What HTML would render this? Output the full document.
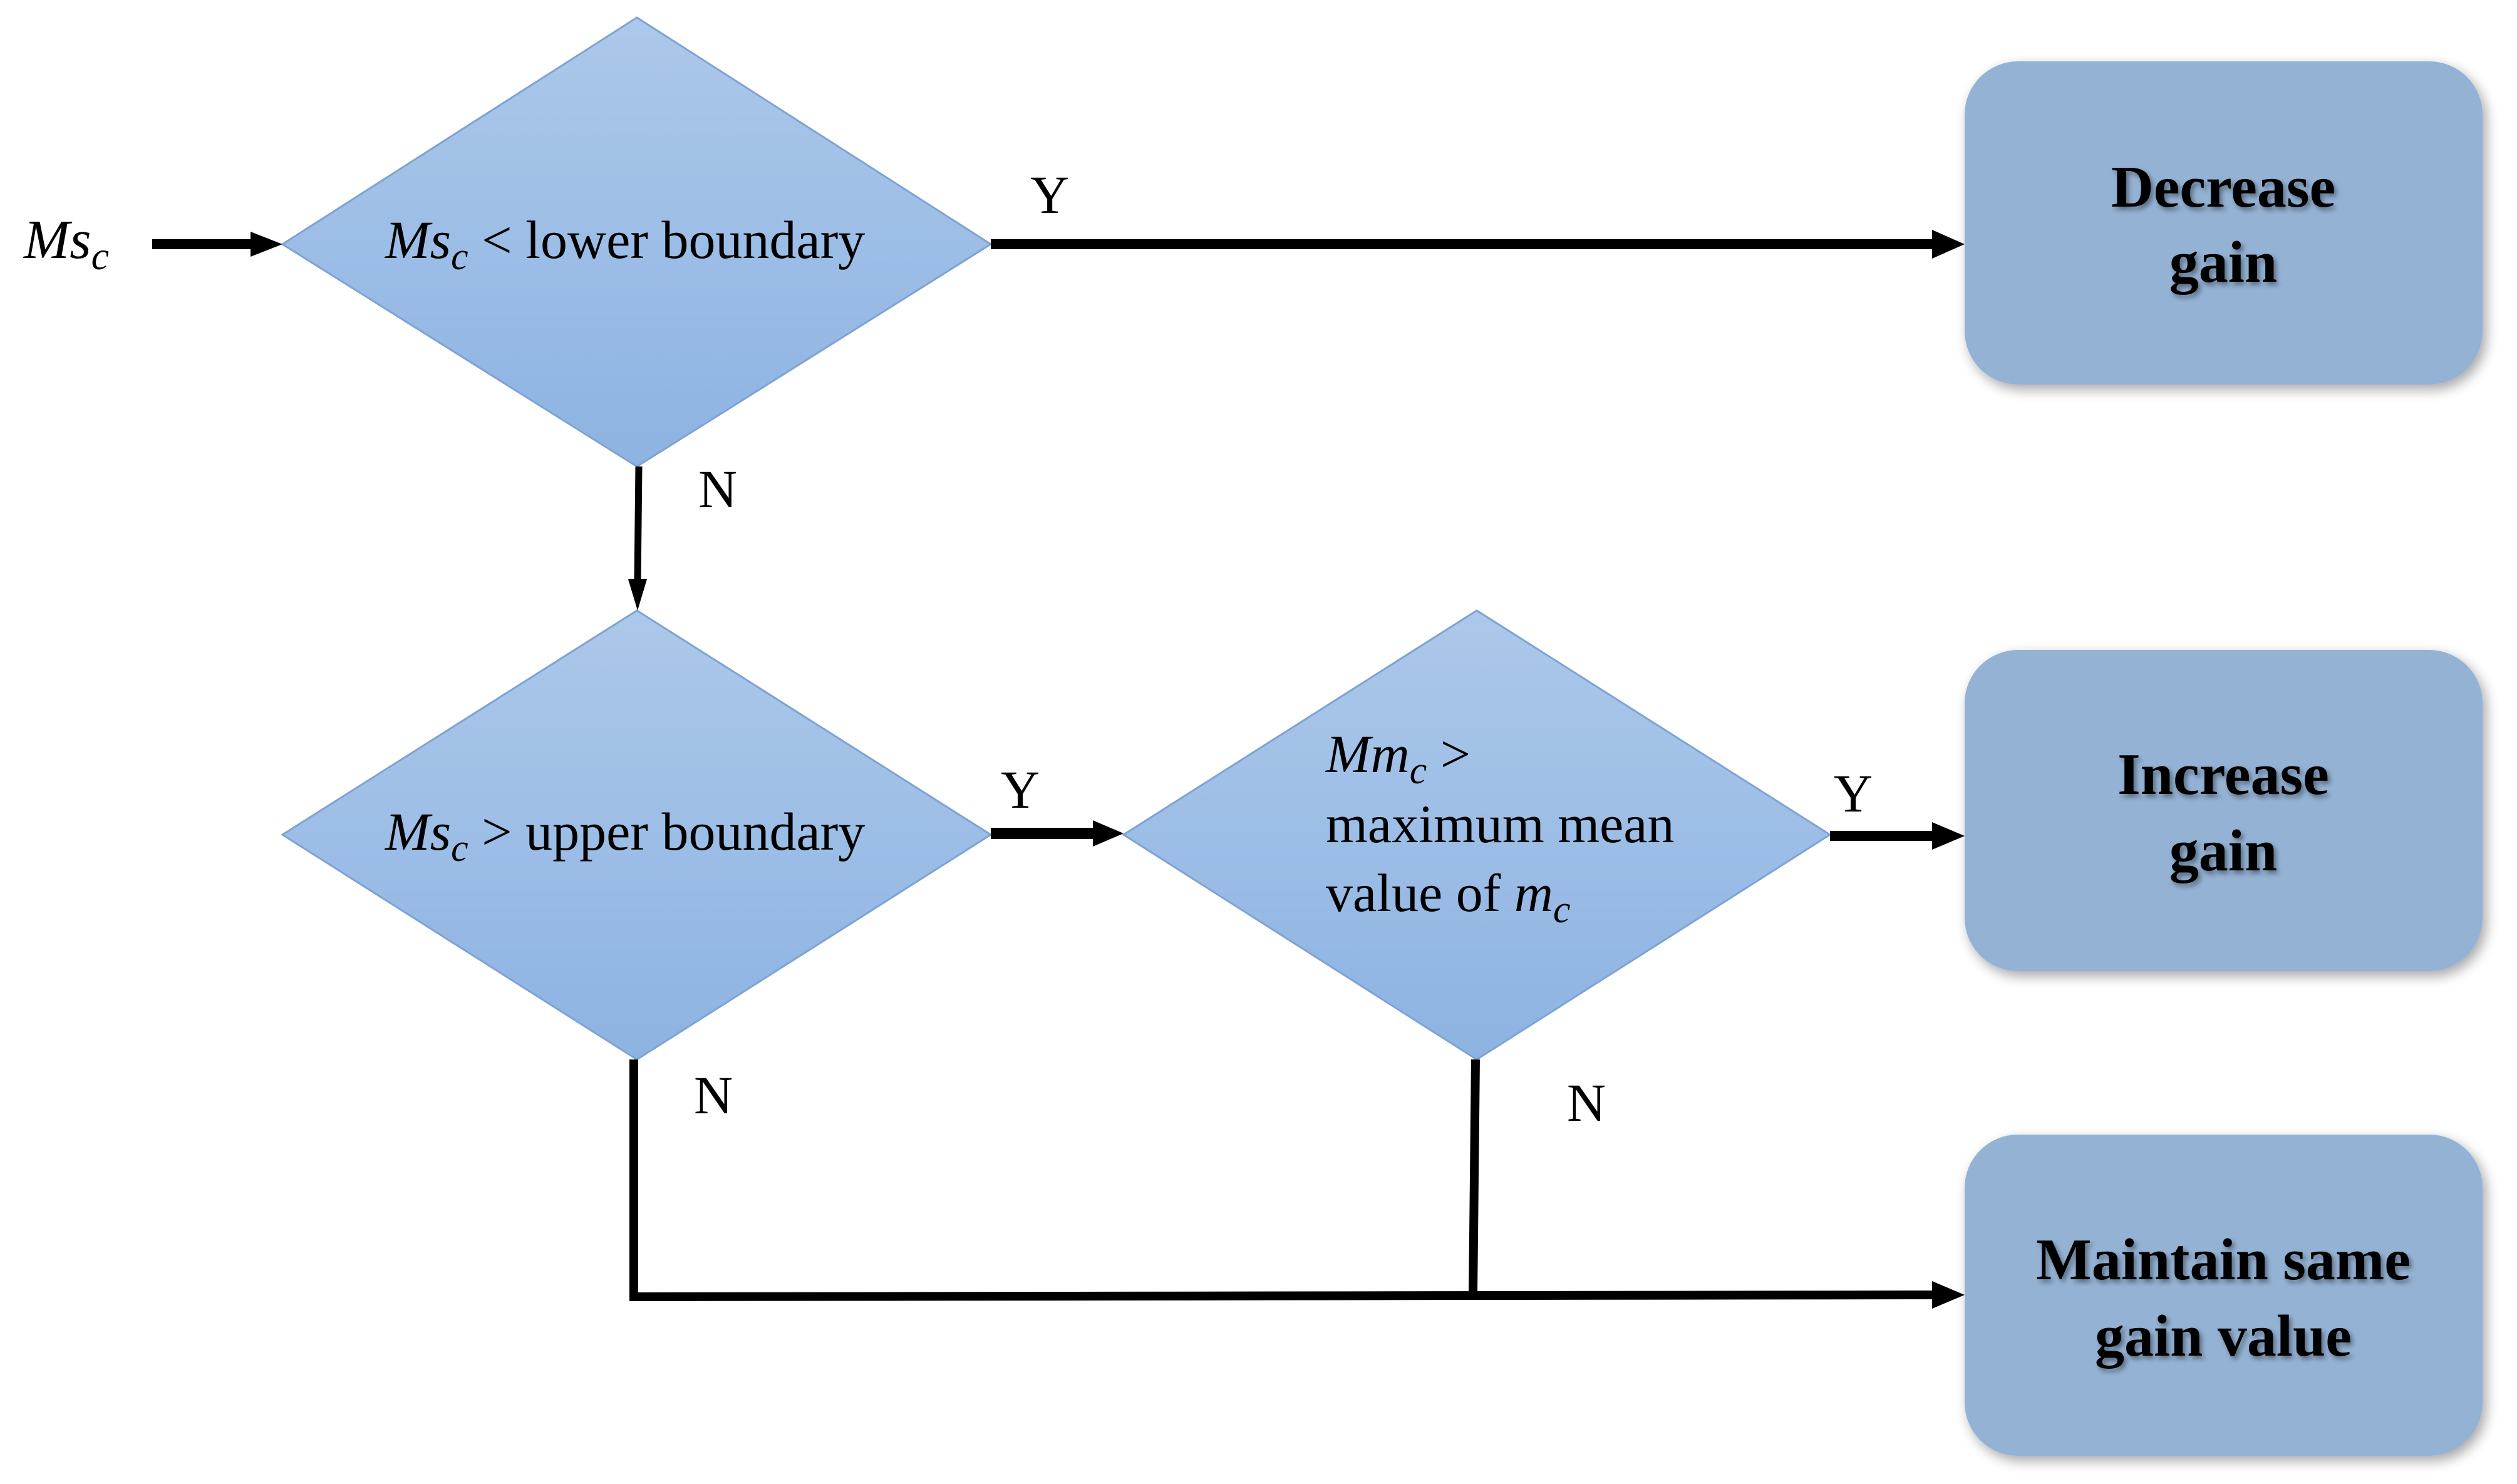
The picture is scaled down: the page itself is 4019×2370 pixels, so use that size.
<!DOCTYPE html>
<html><head><meta charset="utf-8"><style>
html,body{margin:0;padding:0;background:#fff;}
svg{display:block;}
.t{font-family:"Liberation Serif",serif;fill:#000;}
.b{font-family:"Liberation Serif",serif;font-weight:bold;fill:#000;}
</style></head><body>
<svg width="4019" height="2370" viewBox="0 0 4019 2370" xmlns="http://www.w3.org/2000/svg">
<defs>
<linearGradient id="dg" x1="0" y1="0" x2="0" y2="1">
<stop offset="0" stop-color="#acc8ea"/><stop offset="1" stop-color="#8db3e2"/>
</linearGradient>
<filter id="sh" x="-10%" y="-10%" width="125%" height="125%">
<feGaussianBlur in="SourceAlpha" stdDeviation="10"/><feOffset dx="6" dy="8"/>
<feComponentTransfer><feFuncA type="linear" slope="0.35"/></feComponentTransfer>
<feMerge><feMergeNode/><feMergeNode in="SourceGraphic"/></feMerge>
</filter>
<filter id="ts"><feGaussianBlur in="SourceAlpha" stdDeviation="4"/><feOffset dx="4" dy="5"/>
<feComponentTransfer><feFuncA type="linear" slope="0.4"/></feComponentTransfer>
<feMerge><feMergeNode/><feMergeNode in="SourceGraphic"/></feMerge></filter>
</defs>

<!-- diamonds -->
<polygon points="1017,28 1582,390 1017,745 451,390" fill="url(#dg)" stroke="#7ea3d3" stroke-width="3"/>
<polygon points="1017,975 1582,1333 1017,1692 451,1333" fill="url(#dg)" stroke="#7ea3d3" stroke-width="3"/>
<polygon points="2358,975 2922,1333 2358,1692 1794,1333" fill="url(#dg)" stroke="#7ea3d3" stroke-width="3"/>

<!-- boxes -->
<g filter="url(#sh)" fill="#94b2d4">
<rect x="3137" y="98" width="827" height="516" rx="85"/>
<rect x="3137" y="1038" width="827" height="513" rx="85"/>
<rect x="3137" y="1812" width="827" height="513" rx="85"/>
</g>

<!-- connectors -->
<g stroke="#000" fill="none" stroke-linecap="butt">
<line x1="243" y1="390" x2="410" y2="390" stroke-width="16"/>
<line x1="1582" y1="390" x2="3090" y2="390" stroke-width="16"/>
<line x1="1020" y1="745" x2="1018" y2="930" stroke-width="11"/>
<line x1="1582" y1="1331" x2="1750" y2="1331" stroke-width="18"/>
<line x1="2922" y1="1335" x2="3090" y2="1335" stroke-width="16"/>
<polyline points="1012,1692 1012,2071 3090,2068" stroke-width="14"/>
<line x1="2356" y1="1692" x2="2352" y2="2068" stroke-width="14"/>
</g>
<g fill="#000">
<polygon points="400,370 451,390 400,410"/>
<polygon points="3085,367 3137,390 3085,413"/>
<polygon points="1003,925 1033,925 1018,975"/>
<polygon points="1745,1310 1794,1331 1745,1352"/>
<polygon points="3085,1313 3137,1335 3085,1357"/>
<polygon points="3085,2046 3137,2068 3085,2090"/>
</g>

<!-- labels -->
<text class="t" x="38" y="412" font-size="88" font-style="italic">Ms<tspan font-size="64" dy="18">c</tspan></text>
<text class="t" x="615" y="412" font-size="86"><tspan font-style="italic">Ms</tspan><tspan font-style="italic" font-size="62" dy="18">c</tspan><tspan dy="-18"> &lt; lower boundary</tspan></text>
<text class="t" x="615" y="1357" font-size="86"><tspan font-style="italic">Ms</tspan><tspan font-style="italic" font-size="62" dy="18">c</tspan><tspan dy="-18"> &gt; upper boundary</tspan></text>
<text class="t" x="2117" y="1233" font-size="86"><tspan font-style="italic">Mm</tspan><tspan font-style="italic" font-size="62" dy="18">c</tspan><tspan dy="-18"> &gt;</tspan></text>
<text class="t" x="2117" y="1345" font-size="86">maximum mean</text>
<text class="t" x="2117" y="1455" font-size="86">value of <tspan font-style="italic">m</tspan><tspan font-style="italic" font-size="62" dy="18">c</tspan></text>

<text class="t" x="1645" y="340" font-size="86">Y</text>
<text class="t" x="1115" y="810" font-size="86">N</text>
<text class="t" x="1598" y="1290" font-size="86">Y</text>
<text class="t" x="2928" y="1296" font-size="86">Y</text>
<text class="t" x="1108" y="1778" font-size="86">N</text>
<text class="t" x="2502" y="1790" font-size="86">N</text>

<g filter="url(#ts)" text-anchor="middle">
<text class="b" x="3550" y="330" font-size="94">Decrease</text>
<text class="b" x="3550" y="450" font-size="94">gain</text>
<text class="b" x="3550" y="1268" font-size="94">Increase</text>
<text class="b" x="3550" y="1390" font-size="94">gain</text>
<text class="b" x="3550" y="2043" font-size="94">Maintain same</text>
<text class="b" x="3550" y="2165" font-size="94">gain value</text>
</g>
</svg>
</body></html>
